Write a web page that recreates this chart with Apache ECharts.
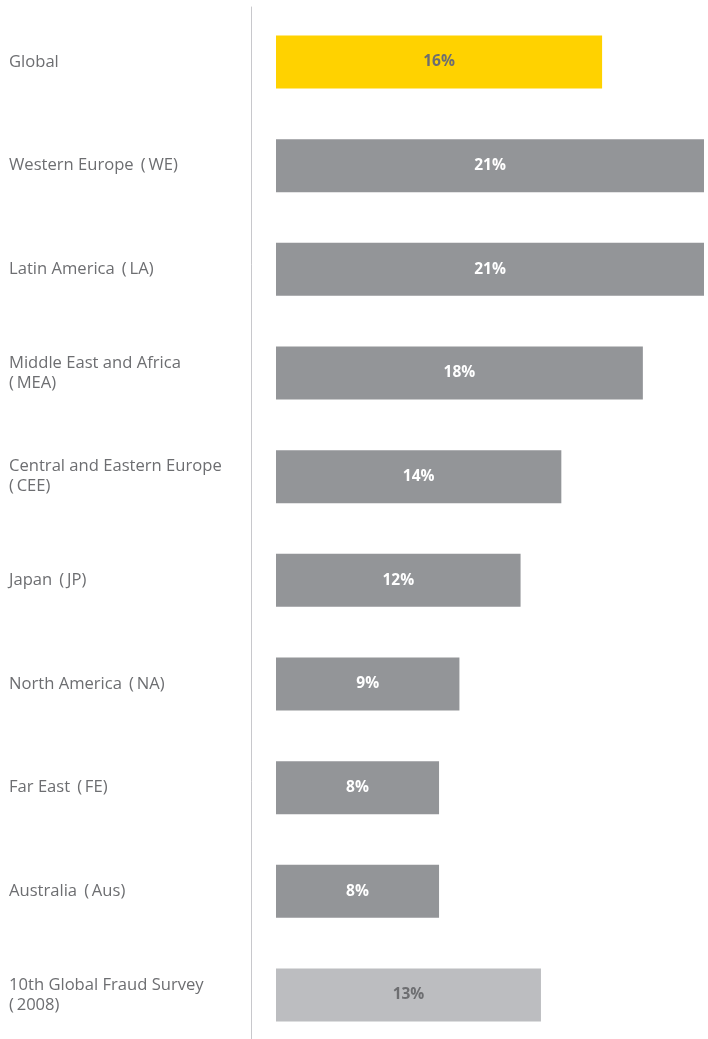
<!DOCTYPE html>
<html>
<head>
<meta charset="utf-8">
<script src="https://cdn.jsdelivr.net/npm/echarts@6/dist/echarts.min.js"></script>
<style>
html,body{margin:0;padding:0;background:#fff;}
#chart{width:708px;height:1039px;}
</style>
</head>
<body>
<div id="chart"></div>
<script>
const categories = [
  "Global",
  "Western Europe \u2009(\u2009WE)",
  "Latin America \u2009(\u2009LA)",
  "Middle East and Africa\n(\u2009MEA)",
  "Central and Eastern Europe\n(\u2009CEE)",
  "Japan \u2009(\u2009JP)",
  "North America \u2009(\u2009NA)",
  "Far East \u2009(\u2009FE)",
  "Australia \u2009(\u2009Aus)",
  "10th Global Fraud Survey\n(\u20092008)"
];
const values = [16, 21, 21, 18, 14, 12, 9, 8, 8, 13];
const barColors = ["#ffd200", "#939598", "#939598", "#939598", "#939598", "#939598", "#939598", "#939598", "#939598", "#bcbdc0"];
const labelColors = ["#6d6e71", "#ffffff", "#ffffff", "#ffffff", "#ffffff", "#ffffff", "#ffffff", "#ffffff", "#ffffff", "#6d6e71"];

const chart = echarts.init(document.getElementById('chart'), null, {renderer: 'canvas'});
chart.setOption({
  animation: false,
  grid: [
    {left: 276, top: 62, width: 428, height: 933},
    {left: 251, top: 7, width: 10, bottom: 0}
  ],
  xAxis: [
    {type: 'value', min: 0, max: 21, show: false, gridIndex: 0},
    {type: 'value', min: 0, max: 1, show: false, gridIndex: 1}
  ],
  yAxis: [
    {
      type: 'category', data: categories, inverse: true, boundaryGap: false, gridIndex: 0,
      axisLine: {show: false},
      axisTick: {show: false},
      splitLine: {show: false},
      axisLabel: {
        align: 'left', margin: 267, color: '#6d6e71', fontSize: 16.6,
        fontFamily: 'Open Sans, sans-serif', lineHeight: 20
      }
    },
    {
      type: 'value', min: 0, max: 1, gridIndex: 1,
      axisLine: {show: true, onZero: false, lineStyle: {color: '#c8c8cc', width: 1}},
      axisTick: {show: false}, axisLabel: {show: false}, splitLine: {show: false}
    }
  ],
  series: [{
    type: 'bar', barWidth: 53, xAxisIndex: 0, yAxisIndex: 0,
    data: values.map((v, i) => ({
      value: v,
      itemStyle: {color: barColors[i]},
      label: {color: labelColors[i]}
    })),
    label: {
      show: true, position: 'inside', formatter: '{c}%',
      fontSize: 15.5, fontWeight: 'bold', fontFamily: 'Open Sans, sans-serif'
    }
  }]
});
</script>
</body>
</html>
